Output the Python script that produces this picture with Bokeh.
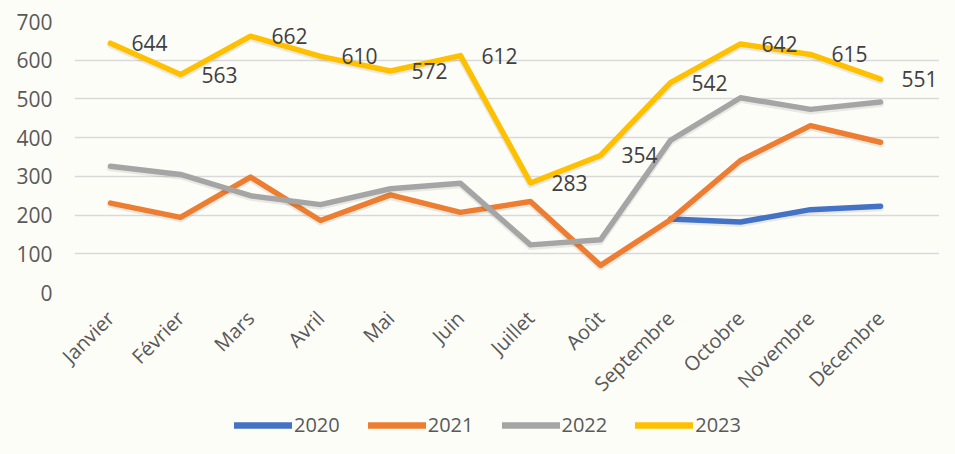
import math
from bokeh.plotting import figure
from bokeh.layouts import column
from bokeh.models import Range1d, Legend, LegendItem, FixedTicker, ColumnDataSource, LabelSet
from bokeh.core.properties import value
from bokeh.embed import file_html
from bokeh.resources import INLINE

months = ["Janvier", "Février", "Mars", "Avril", "Mai", "Juin", "Juillet",
          "Août", "Septembre", "Octobre", "Novembre", "Décembre"]
months_2020 = ["Septembre", "Octobre", "Novembre", "Décembre"]
v2020 = [190, 182, 214, 223]
v2021 = [231, 194, 298, 186, 252, 207, 235, 70, 188, 341, 431, 388]
v2022 = [326, 305, 250, 227, 268, 282, 123, 136, 393, 503, 473, 492]
v2023 = [644, 563, 662, 610, 572, 612, 283, 354, 542, 642, 615, 551]
y_ticks = [0, 100, 200, 300, 400, 500, 600, 700]
series_names = ["2020", "2021", "2022", "2023"]
colors = ["#4472C4", "#ED7D31", "#A5A5A5", "#FFC000"]

BG = "#fdfdf8"
FONT = "Open Sans"

idx = {m: i for i, m in enumerate(months)}
x_all = [idx[m] for m in months]
x_2020 = [idx[m] for m in months_2020]

x_range = Range1d(-0.514, 11.843)
p = figure(width=939, height=412, x_range=x_range, y_range=Range1d(0, 700),
           output_backend="svg", toolbar_location=None,
           min_border_left=74, min_border_right=0, min_border_top=21, min_border_bottom=120)
p.background_fill_color = BG
p.border_fill_color = BG
p.outline_line_color = None

p.xgrid.grid_line_color = None
p.ygrid.grid_line_color = "#d9d9d9"
p.ygrid.grid_line_width = 1.6
p.yaxis.ticker = FixedTicker(ticks=y_ticks)
p.xaxis.ticker = FixedTicker(ticks=x_all)
p.xaxis.major_label_overrides = {i: m for i, m in zip(x_all, months)}
for ax in (p.xaxis[0], p.yaxis[0]):
    ax.axis_line_color = None
    ax.major_tick_line_color = None
    ax.minor_tick_line_color = None
    ax.major_label_text_font = FONT
    ax.major_label_text_color = "#595959"
    ax.major_label_text_font_size = "20px"
p.yaxis.major_label_text_font_size = "21px"
p.yaxis.major_label_standoff = 16
p.xaxis.major_label_orientation = math.pi / 4
p.xaxis.major_label_standoff = 16

data = [(x_2020, v2020), (x_all, v2021), (x_all, v2022), (x_all, v2023)]
for (xs, ys), col in zip(data, colors):
    # soft shadow
    p.line(xs, [y - 4 for y in ys], line_color="#000000", line_alpha=0.08, line_width=7,
           line_join="round", line_cap="round")
    p.line(xs, ys, line_color=col, line_width=5.5, line_join="round", line_cap="round")

src = ColumnDataSource(dict(x=x_all, y=v2023, t=[str(v) for v in v2023]))
labels = LabelSet(x="x", y="y", text="t", source=src, x_offset=21, text_align="left",
                  text_baseline="middle", text_font=value(FONT), text_font_size="21px",
                  text_color="#404040")
p.add_layout(labels)

# legend strip (series drawn out of view so only the legend shows)
p2 = figure(width=939, height=26, x_range=x_range, y_range=Range1d(-3000, -2000),
            output_backend="svg", toolbar_location=None,
            x_axis_location=None, y_axis_location=None,
            min_border_left=74, min_border_right=0, min_border_top=0, min_border_bottom=0)
p2.background_fill_color = BG
p2.border_fill_color = BG
p2.outline_line_color = None
p2.grid.grid_line_color = None
items = []
for name, (xs, ys), col in zip(series_names, data, colors):
    r = p2.line(xs, ys, line_color=col, line_width=6.5, line_cap="round")
    items.append(LegendItem(label=name, renderers=[r]))
leg = Legend(items=items, orientation="horizontal", location=(160, 0),
             glyph_width=58, glyph_height=20, label_standoff=2, spacing=28,
             padding=0, margin=0, border_line_color=None, background_fill_alpha=0,
             label_text_font=FONT, label_text_font_size="20px", label_text_color="#595959",
             label_height=20)
p2.add_layout(leg, "center")

layout = column(p, p2, spacing=0)
html = file_html(layout, INLINE)
html = html.replace("</head>", "<style>html,body{background:%s;}</style></head>" % BG, 1)
open("out.html", "w").write(html)
